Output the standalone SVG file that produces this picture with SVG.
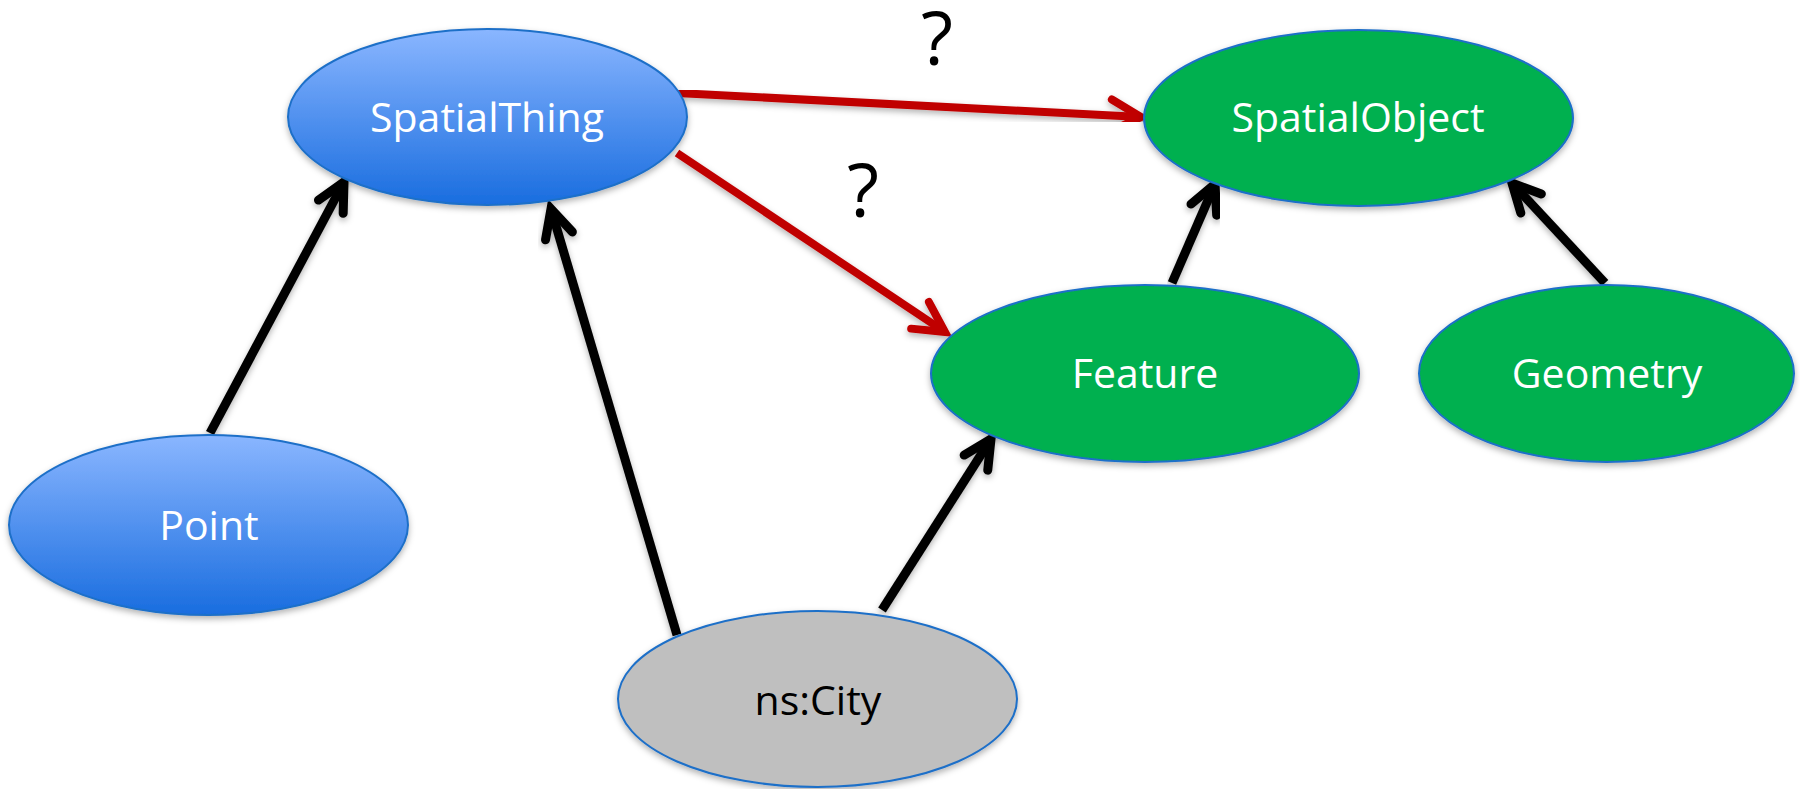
<svg xmlns="http://www.w3.org/2000/svg" width="1800" height="789" viewBox="0 0 1800 789">
<defs>
<linearGradient id="blueGrad" x1="0" y1="0" x2="0" y2="1">
<stop offset="0" stop-color="#8AB6FF"/>
<stop offset="1" stop-color="#196DDF"/>
</linearGradient>
<filter id="shadow" x="-10%" y="-10%" width="120%" height="130%">
<feDropShadow dx="0" dy="3" stdDeviation="3" flood-color="#000" flood-opacity="0.3"/>
</filter>
<marker id="arrowBlack" markerUnits="userSpaceOnUse" markerWidth="60" markerHeight="60" refX="0" refY="0" viewBox="-40 -30 50 60" orient="auto" overflow="visible">
<path d="M-28,-14 L0,0 L-28,14" fill="none" stroke="#000" stroke-width="9" stroke-linecap="round" stroke-linejoin="miter"/>
</marker>
<marker id="arrowRed" markerUnits="userSpaceOnUse" markerWidth="60" markerHeight="60" refX="0" refY="0" viewBox="-40 -30 50 60" orient="auto" overflow="visible">
<path d="M-30,-16 L0,0 L-30,16" fill="none" stroke="#C00000" stroke-width="8" stroke-linecap="round" stroke-linejoin="miter"/>
</marker>
</defs>
<style>
.node { stroke: #1F6FC8; stroke-width: 2; filter: url(#shadow); }
.blue { fill: url(#blueGrad); }
.green { fill: #00B050; }
.gray { fill: #BFBFBF; }
.label { font-family: "Open Sans", "Liberation Sans", sans-serif; font-size: 41px; text-anchor: middle; fill: #FFFFFF; }
.dark { fill: #000000; }
.q { font-family: "Open Sans", "Liberation Sans", sans-serif; font-size: 74px; text-anchor: middle; fill: #000000; }
.black { stroke: #000; stroke-width: 9; fill: none; marker-end: url(#arrowBlack); filter: url(#shadow); }
.red { stroke: #C00000; stroke-width: 8; fill: none; marker-end: url(#arrowRed); filter: url(#shadow); }
</style>
<rect width="1800" height="789" fill="#FFFFFF"/>
<g id="connectors">
<line class="red" x1="677" y1="93" x2="1141" y2="117"/>
<line class="red" x1="677" y1="153" x2="945" y2="332"/>
<line class="black" x1="210" y1="433" x2="344" y2="182"/>
<line class="black" x1="677" y1="635" x2="551" y2="209"/>
<line class="black" x1="882" y1="610" x2="991" y2="439"/>
<line class="black" x1="1172" y1="283" x2="1215" y2="184"/>
<line class="black" x1="1605" y1="283" x2="1512" y2="183"/>
</g>
<g id="labels">
<text class="q" x="937" y="65">?</text>
<text class="q" x="863" y="217">?</text>
</g>
<g id="node-spatialthing">
<ellipse class="node blue" cx="487.5" cy="117" rx="199.5" ry="88"/>
<text class="label" x="487" y="132">SpatialThing</text>
</g>
<g id="node-spatialobject">
<ellipse class="node green" cx="1358.5" cy="118" rx="214.5" ry="88"/>
<text class="label" x="1358" y="132">SpatialObject</text>
</g>
<g id="node-feature">
<ellipse class="node green" cx="1145" cy="373.5" rx="214" ry="88.5"/>
<text class="label" x="1145" y="388">Feature</text>
</g>
<g id="node-geometry">
<ellipse class="node green" cx="1606.5" cy="373.5" rx="187.5" ry="88.5"/>
<text class="label" x="1607" y="388">Geometry</text>
</g>
<g id="node-point">
<ellipse class="node blue" cx="208.5" cy="525" rx="199.5" ry="90"/>
<text class="label" x="209" y="540">Point</text>
</g>
<g id="node-city">
<ellipse class="node gray" cx="817.5" cy="699" rx="199.5" ry="88"/>
<text class="label dark" x="818" y="715">ns:City</text>
</g>
</svg>
